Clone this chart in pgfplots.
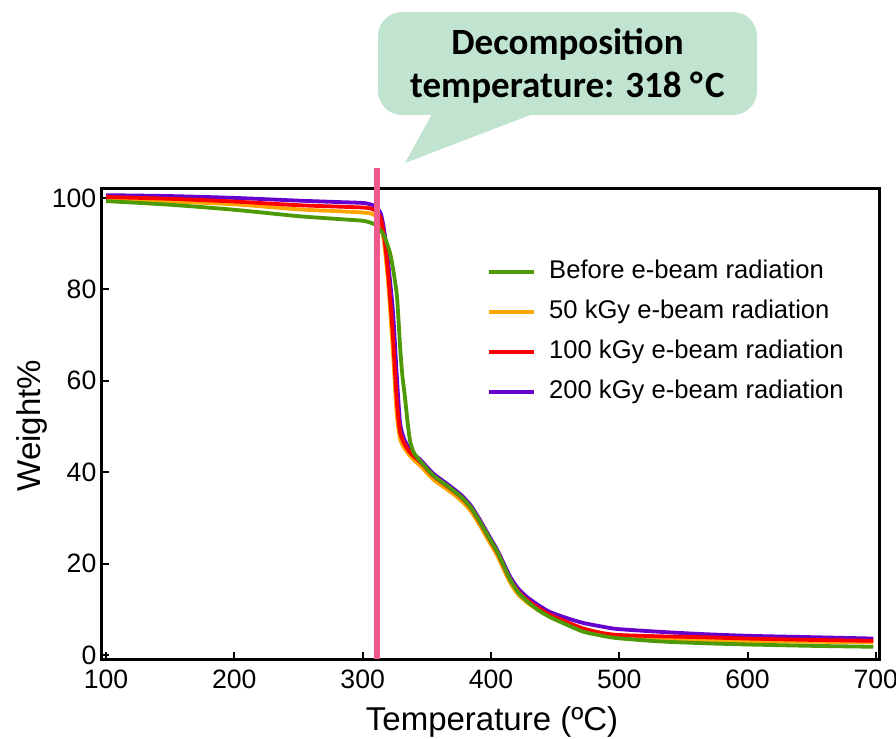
\documentclass[border=0pt]{standalone}
\usepackage{fontspec}
\setmainfont{Liberation Sans}
\newfontfamily\calibri{Carlito}
\usepackage{pgfplots}
\pgfplotsset{compat=1.18}
\definecolor{cgreen}{RGB}{78,154,6}
\definecolor{corange}{RGB}{255,165,0}
\definecolor{cred}{RGB}{255,0,0}
\definecolor{cpurple}{RGB}{102,0,204}
\definecolor{cpink}{RGB}{241,88,139}
\definecolor{cmint}{RGB}{192,228,208}
\begin{document}
\begin{tikzpicture}
\begin{axis}[
  scale only axis, width=388.8pt, height=235.5pt,
  xmin=96.6, xmax=702.7, ymin=-0.94, ymax=102.1,
  xtick={100,200,...,700}, ytick={0,20,...,100},
  xtick pos=left, ytick pos=left,
  tick align=inside, major tick length=3.8pt,
  every tick/.style={black, line width=1pt},
  axis line style={line width=1.5pt},
  /pgf/number format/assume math mode=true,
  ticklabel style={font=\fontsize{13.3}{15}\selectfont},
  xticklabel style={inner sep=0pt, yshift=-5.3pt},
  yticklabel style={inner sep=0pt, xshift=-2.5pt},
  xlabel={Temperature (ºC)}, ylabel={Weight\%},
  label style={font=\fontsize{16.5}{18}\selectfont},
  xlabel style={at={(axis description cs:0.502,-0.1325)}, anchor=center},
  ylabel style={at={(axis description cs:-0.0896,0.4958)}, anchor=center},
  clip=false,
  legend style={at={(axis description cs:0.4955,0.8493)}, anchor=north west,
    draw=none, fill=none, inner sep=0pt, row sep=7.8pt, column sep=6.5pt,
    font=\fontsize{12.8}{14}\selectfont,
    nodes={inner sep=0pt, text height=9.5pt, text depth=2.7pt}},
  legend cell align=left,
  legend image code/.code={\draw[#1] (0pt,0pt) -- (22.5pt,0pt);},
]
\addplot[cpurple, line width=1.9pt, smooth, tension=0.4, forget plot] coordinates {
(100,100.6) (150,100.4) (200,100.0) (250,99.4) (280,99.1) (300,98.9) (306,98.6) (310,98.1) (314,96.7) (317,92.5) (320,85.5) (323.7,74.8) (326.8,60.1) (329.2,50.7) (332,47.5) (335,45.8) (340,43.9) (345,42.7) (355,39.7) (365,37.6) (376,35.2) (384,32.8) (391.5,29.5) (398,26.3) (405,22.9) (410,20.0) (415,17.1) (421,14.6) (428,12.7) (437,10.9) (446,9.4) (460,8.0) (472,7.0) (485,6.3) (498,5.7) (530,5.1) (563,4.6) (600,4.2) (650,3.9) (698,3.6)};
\addplot[corange, line width=1.9pt, smooth, tension=0.4, forget plot] coordinates {
(100,99.8) (150,99.2) (200,98.6) (250,97.5) (280,97.1) (300,96.8) (306,96.6) (310,96.1) (314,94.5) (317,89.5) (320,81.0) (323.5,67.0) (326.5,53.0) (329,47.5) (332,45.5) (336,43.9) (340,42.6) (345,41.4) (355,38.4) (365,36.4) (376,34.0) (384,31.6) (391.5,28.3) (398,25.1) (405,21.7) (410,18.7) (415,15.8) (421,13.3) (428,11.5) (437,9.8) (446,8.5) (460,6.8) (472,5.5) (485,4.6) (498,4.0) (530,3.5) (563,3.2) (600,3.0) (650,2.9) (698,2.8)};
\addplot[cred, line width=1.9pt, smooth, tension=0.4, forget plot] coordinates {
(100,100.2) (150,99.8) (200,99.2) (250,98.4) (280,98.1) (300,97.9) (306,97.7) (310,97.2) (314,95.6) (317,91.0) (320,83.0) (323.5,70.0) (326.5,56.0) (329,49.0) (332,46.5) (336,44.6) (340,43.4) (345,42.2) (355,39.2) (365,37.1) (376,34.7) (384,32.3) (391.5,29.0) (398,25.8) (405,22.4) (410,19.4) (415,16.5) (421,14.0) (428,12.1) (437,10.3) (446,8.8) (460,7.1) (472,5.8) (485,4.9) (498,4.4) (530,4.1) (563,3.9) (600,3.6) (650,3.3) (698,3.1)};
\addplot[cgreen, line width=1.9pt, smooth, tension=0.4, forget plot] coordinates {
(100,99.3) (150,98.5) (200,97.4) (250,96.0) (280,95.4) (300,95.0) (306,94.6) (310,94.1) (313.6,93.0) (317,91.6) (321.4,87.9) (324,84.0) (326.8,78.3) (329.2,67.4) (331,61.0) (333,56.4) (335,51.0) (337,46.8) (340,44.2) (345,42.4) (355,39.3) (365,37.2) (376,34.8) (384,32.4) (391.5,29.1) (398,25.9) (405,22.5) (410,19.5) (415,16.5) (421,13.8) (428,11.8) (437,9.8) (446,8.3) (460,6.5) (472,5.1) (485,4.3) (498,3.7) (530,3.0) (563,2.6) (600,2.3) (650,2.0) (698,1.8)};
\addplot[cpink, line width=3pt, forget plot] coordinates {(311,-0.94) (311,106.5)};
\addlegendimage{cgreen, line width=1.9pt}
\addlegendentry{Before e-beam radiation}
\addlegendimage{corange, line width=1.9pt}
\addlegendentry{50 kGy e-beam radiation}
\addlegendimage{cred, line width=1.9pt}
\addlegendentry{100 kGy e-beam radiation}
\addlegendimage{cpurple, line width=1.9pt}
\addlegendentry{200 kGy e-beam radiation}
\end{axis}
\begin{scope}[shift={(current axis.south west)}, xshift=-50.85pt, yshift=329.65pt, x=0.5pt, y=-0.5pt]
  \fill[cmint, rounded corners=12pt] (378,12) rectangle (757,115);
  \fill[cmint] (432,114) -- (533,114) -- (405,163) -- cycle;
  \node[font=\calibri\bfseries\fontsize{18.5}{21.5}\selectfont, anchor=base, inner sep=0pt] at (567.5,55) {Decomposition};
  \node[font=\calibri\bfseries\fontsize{18.5}{21.5}\selectfont, anchor=base, inner sep=0pt] at (567.5,98) {temperature: 318 °\kern1.2ptC};
  \pgfresetboundingbox
  \path[use as bounding box] (0,0) rectangle (896,739);
\end{scope}
\end{tikzpicture}
\end{document}
